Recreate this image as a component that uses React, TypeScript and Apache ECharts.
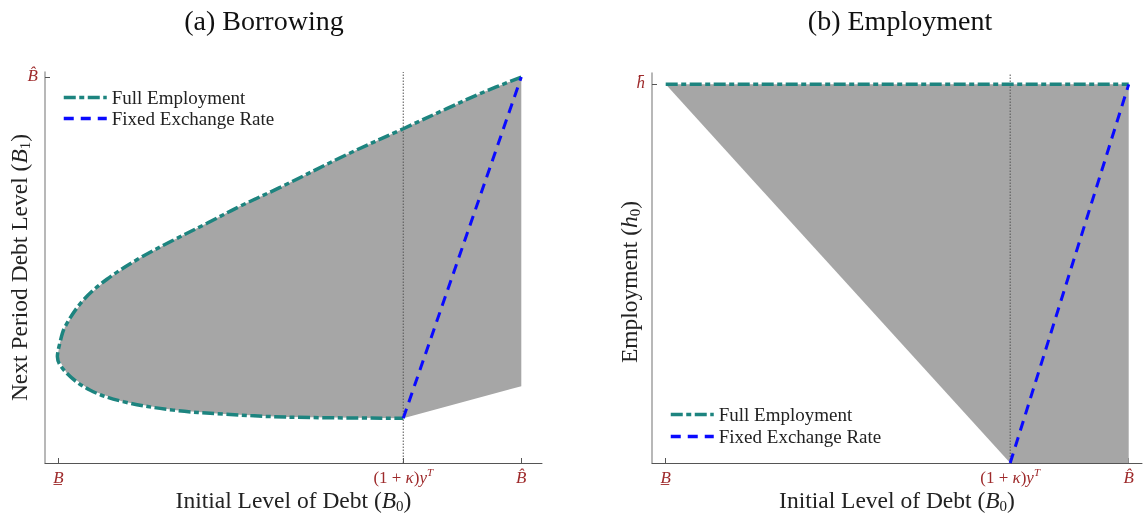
import React, { useEffect, useRef } from "react";
import * as echarts from "echarts";

// ---------- data (abstract units: B_ = 0, B̂ = 1 on x; B̂ / h̄ = 1 on y) ----------
const KINK_A = 0.745; // (1+κ)y^T, panel (a)
const KINK_B = 0.744; // (1+κ)y^T, panel (b)

// Panel (a): full-employment frontier, from B̂ along upper branch, round the tip, along lower branch
const feAX = [1.0, 0.911, 0.839, 0.745, 0.623, 0.479, 0.392, 0.321, 0.248, 0.176, 0.105, 0.054, 0.0145, 0.003, -0.002, 0.018, 0.068, 0.14, 0.248, 0.356, 0.49, 0.745];
const feAY = [1.0, 0.957, 0.918, 0.866, 0.799, 0.714, 0.665, 0.621, 0.577, 0.531, 0.476, 0.422, 0.353, 0.309, 0.275, 0.233, 0.189, 0.159, 0.137, 0.127, 0.119, 0.116];
// lower right edge of the shaded set
const edgeAX = [1.0];
const edgeAY = [0.199];
// fixed exchange rate line
const fxAX = [0.745, 1.0];
const fxAY = [0.116, 1.0];

// Panel (b)
const feBX = [0, 1];
const feBY = [1, 1];
const fillBX = [0, 0.744, 1, 1];
const fillBY = [1, 0, 0, 1];
const fxBX = [0.744, 1];
const fxBY = [0, 1];

const AX_MIN = -0.0288, AX_MAX = 1.0447, AY_MAX = 1.013;
const BX_MIN = -0.0296, BX_MAX = 1.0287, BY_MAX = 1.03;

const xTicksA = [0, KINK_A, 1];
const xTicksB = [0, KINK_B, 1];

const TITLE_A = "(a) Borrowing";
const TITLE_B = "(b) Employment";

const SERIF = "'Liberation Serif', 'DejaVu Serif', serif";
const TEAL = "#1d847f";
const BLUE = "#0a0aff";
const GRAY = "#a6a6a6";
const RED = "#9e2a2b";

const pairs = (xs: number[], ys: number[]) => xs.map((x, i) => [x, ys[i]]);

const tickRich = {
  m: { fontFamily: SERIF, fontSize: 17, fontStyle: "italic", color: RED, lineHeight: 20, verticalAlign: "bottom" },
  n: { fontFamily: SERIF, fontSize: 17, color: RED, lineHeight: 20, verticalAlign: "bottom" },
  sup: { fontFamily: SERIF, fontSize: 11, fontStyle: "italic", color: RED, lineHeight: 12, verticalAlign: "top" },
};

const nameRich = {
  t: { fontFamily: SERIF, fontSize: 23.5, color: "#222", lineHeight: 27 },
  i: { fontFamily: SERIF, fontSize: 23.5, fontStyle: "italic", color: "#222", lineHeight: 27 },
  s: { fontFamily: SERIF, fontSize: 15, color: "#222", lineHeight: 12, verticalAlign: "bottom" },
};

function xLabel(kink: number) {
  return (v: number) => {
    if (Math.abs(v) < 1e-6) return "{m|B\u0332}";
    if (Math.abs(v - kink) < 1e-6) return "{n|(1 + }{m|κ}{n|)}{m|y}{sup|T}";
    if (Math.abs(v - 1) < 1e-6) return "{m|B\u0302}";
    return "";
  };
}

function fillRenderer(xs: number[], ys: number[]) {
  return (params: any, api: any) => {
    if (params.dataIndex !== 0) return null;
    const pts = xs.map((x, i) => api.coord([x, ys[i]]));
    return { type: "polygon", shape: { points: pts }, style: { fill: GRAY } };
  };
}

const feLine = { color: TEAL, width: 3.5, type: [12, 3.5, 5, 3.5] };
const fxLine = { color: BLUE, width: 3, type: [10, 7] };
const dotLine = { color: "#555", width: 1, type: [1.5, 1.5] };

function xAxisCfg(grid: number, min: number, max: number, ticks: number[], kink: number) {
  return {
    gridIndex: grid,
    type: "value",
    min,
    max,
    splitLine: { show: false },
    axisLine: { show: true, onZero: false, lineStyle: { color: "#555", width: 1 } },
    axisTick: { show: true, inside: true, length: 5, customValues: ticks, lineStyle: { color: "#555" } },
    axisLabel: { customValues: ticks, formatter: xLabel(kink), rich: tickRich, margin: 3 },
    name: "{t|Initial Level of Debt (}{i|B}{s|0}{t|)}",
    nameLocation: "middle",
    nameGap: 23,
    nameMoveOverlap: false,
    nameTextStyle: { rich: nameRich },
  };
}

function yAxisCfg(grid: number, max: number, label: string, name: string, pad: number[], gap: number) {
  return {
    gridIndex: grid,
    type: "value",
    min: 0,
    max,
    splitLine: { show: false },
    axisLine: { show: true, onZero: false, lineStyle: { color: "#a0a0a0", width: 1.5 } },
    axisTick: { show: true, inside: true, length: 5, customValues: [1], lineStyle: { color: "#555" } },
    axisLabel: { customValues: [1], formatter: () => label, rich: tickRich, margin: 7, padding: [0, 0, 6, 0] },
    name,
    nameLocation: "middle",
    nameRotate: 90,
    nameGap: gap,
    nameMoveOverlap: false,
    nameTextStyle: { rich: nameRich, padding: pad },
  };
}

export default function App() {
  const ref = useRef<HTMLDivElement>(null);
  useEffect(() => {
    if (!ref.current) return;
    const chart = echarts.init(ref.current, undefined, { renderer: "svg" });
    const legendBase = {
      orient: "vertical",
      itemWidth: 43,
      itemHeight: 14,
      padding: 0,
      selectedMode: false,
      itemStyle: { opacity: 0 },
      lineStyle: { width: 3.5 },
      data: ["Full Employment", "Fixed Exchange Rate"],
      textStyle: { fontFamily: SERIF, fontSize: 19, color: "#222" },
    };
    chart.setOption({
      animation: false,
      title: [
        { text: TITLE_A, left: 259, top: 1, textAlign: "center", textStyle: { fontFamily: SERIF, fontSize: 28, fontWeight: "normal", color: "#111" } },
        { text: TITLE_B, left: 895, top: 1, textAlign: "center", textStyle: { fontFamily: SERIF, fontSize: 28, fontWeight: "normal", color: "#111" } },
      ],
      legend: [
        { ...legendBase, left: 62, top: 88, itemGap: 2 },
        { ...legendBase, left: 669, top: 405, itemGap: 3 },
      ],
      grid: [
        { left: 45, top: 72, width: 497, height: 391, outerBoundsMode: "none", containLabel: false },
        { left: 652, top: 73, width: 490, height: 390, outerBoundsMode: "none", containLabel: false },
      ],
      xAxis: [xAxisCfg(0, AX_MIN, AX_MAX, xTicksA, KINK_A), xAxisCfg(1, BX_MIN, BX_MAX, xTicksB, KINK_B)],
      yAxis: [
        yAxisCfg(0, AY_MAX, "{m|B\u0302}", "{t|Next Period Debt Level (}{i|B}{s|1}{t|)}", [0, 0, 0, 0], 13),
        yAxisCfg(1, BY_MAX, "{m|h\u0304}", "{t|Employment (}{i|h}{s|0}{t|)}", [0, 28, 0, 0], 10),
      ],
      series: [
        {
          type: "custom", xAxisIndex: 0, yAxisIndex: 0, silent: true, z: 1,
          data: [[0, 0]],
          renderItem: fillRenderer([...feAX, ...edgeAX], [...feAY, ...edgeAY]),
        },
        {
          type: "custom", xAxisIndex: 1, yAxisIndex: 1, silent: true, z: 1,
          data: [[0, 0]],
          renderItem: fillRenderer(fillBX, fillBY),
        },
        { type: "line", xAxisIndex: 0, yAxisIndex: 0, symbol: "none", silent: true, z: 2, data: [[KINK_A, 0], [KINK_A, AY_MAX]], lineStyle: dotLine },
        { type: "line", xAxisIndex: 1, yAxisIndex: 1, symbol: "none", silent: true, z: 2, data: [[KINK_B, 0], [KINK_B, BY_MAX]], lineStyle: dotLine },
        { name: "Full Employment", type: "line", xAxisIndex: 0, yAxisIndex: 0, symbol: "none", smooth: 0.35, z: 3, data: pairs(feAX, feAY), lineStyle: feLine, itemStyle: { color: TEAL } },
        { name: "Fixed Exchange Rate", type: "line", xAxisIndex: 0, yAxisIndex: 0, symbol: "none", z: 4, data: pairs(fxAX, fxAY), lineStyle: fxLine, itemStyle: { color: BLUE } },
        { name: "Full Employment", type: "line", xAxisIndex: 1, yAxisIndex: 1, symbol: "none", z: 3, data: pairs(feBX, feBY), lineStyle: feLine, itemStyle: { color: TEAL } },
        { name: "Fixed Exchange Rate", type: "line", xAxisIndex: 1, yAxisIndex: 1, symbol: "none", z: 4, data: pairs(fxBX, fxBY), lineStyle: fxLine, itemStyle: { color: BLUE } },
      ],
    });
    return () => chart.dispose();
  }, []);
  return <div ref={ref} style={{ position: "fixed", left: 0, top: 0, width: 1143, height: 519 }} />;
}
